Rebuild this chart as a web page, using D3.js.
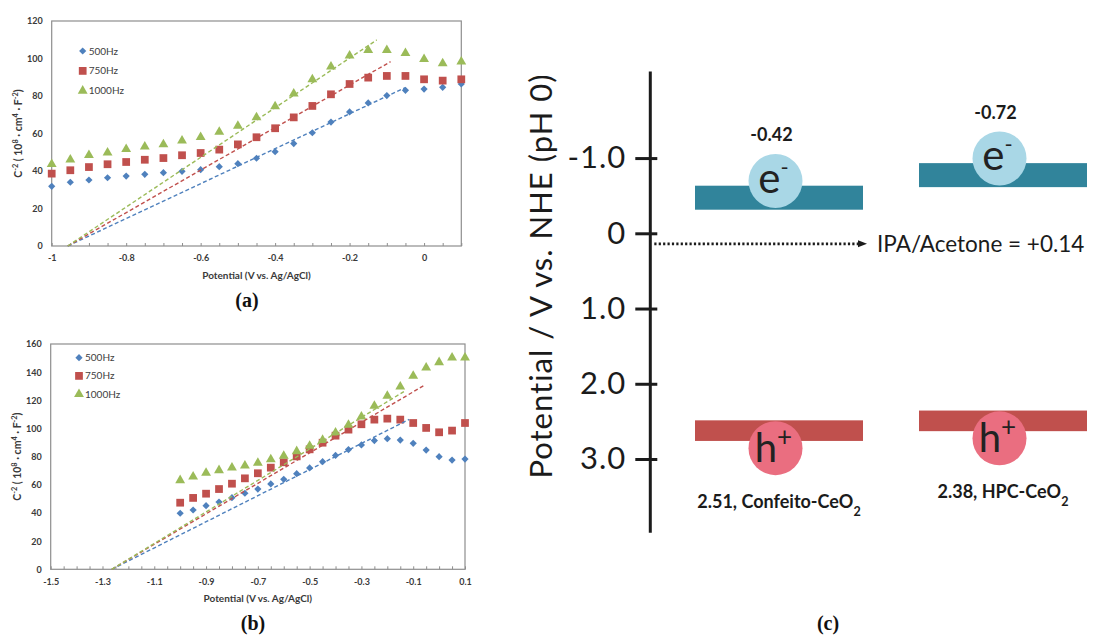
<!DOCTYPE html>
<html>
<head>
<meta charset="utf-8">
<script src="https://cdn.jsdelivr.net/npm/d3@7"></script>
<style>
  body { margin: 0; background: #fff; }
  svg { display: block; }
</style>
</head>
<body>
<svg id="fig" width="1094" height="635"></svg>
<script>
// ---------- Mott–Schottky data, panel (a) ----------
const seriesNames = ["500Hz", "750Hz", "1000Hz"];
const seriesColors = ["#4F81BD", "#C0504D", "#9BBB59"];
const seriesShapes = ["diamond", "square", "triangle"];

const potentialA = [-1, -0.95, -0.9, -0.85, -0.8, -0.75, -0.7, -0.65, -0.6, -0.55, -0.5, -0.45,
                    -0.4, -0.35, -0.3, -0.25, -0.2, -0.15, -0.1, -0.05, 0, 0.05, 0.1];
const a500  = [31.8, 34.0, 35.2, 36.4, 37.3, 38.2, 39.1, 39.8, 40.7, 42.3, 43.9, 46.8,
               50.3, 54.6, 60.4, 66.1, 71.5, 76.3, 80.2, 83.0, 83.7, 84.6, 86.4];
const a750  = [38.6, 40.4, 42.1, 43.6, 44.8, 46.0, 46.9, 48.4, 49.6, 51.4, 54.2, 58.0,
               62.8, 68.6, 74.7, 80.9, 86.4, 89.8, 90.7, 90.7, 88.9, 88.2, 88.9];
const a1000 = [43.6, 46.0, 48.4, 49.8, 51.6, 53.0, 54.2, 56.2, 58.1, 60.8, 64.0, 68.6,
               74.5, 81.2, 88.9, 95.6, 101.5, 104.4, 104.5, 102.8, 99.6, 97.4, 98.3];
// linear fits: [x-intercept, 0] to [end potential, end value]
const fitA500  = [[-0.957, 0], [-0.05, 84.5]];
const fitA750  = [[-0.957, 0], [-0.09, 98.3]];
const fitA1000 = [[-0.957, 0], [-0.127, 109.9]];
const xTicksA = [-1, -0.8, -0.6, -0.4, -0.2, 0];
const xTickLabelsA = ["-1", "-0.8", "-0.6", "-0.4", "-0.2", "0"];
const yTicksA = [0, 20, 40, 60, 80, 100, 120];

// ---------- Mott–Schottky data, panel (b) ----------
const potentialB = [-1, -0.95, -0.9, -0.85, -0.8, -0.75, -0.7, -0.65, -0.6, -0.55, -0.5, -0.45,
                    -0.4, -0.35, -0.3, -0.25, -0.2, -0.15, -0.1, -0.05, 0, 0.05, 0.1];
const b500  = [39.8, 42.1, 45.2, 47.8, 50.9, 54.0, 57.0, 60.6, 63.9, 67.9, 72.0, 76.4,
               80.9, 85.0, 88.3, 91.4, 92.8, 91.8, 89.5, 84.7, 80.0, 77.6, 78.3];
const b750  = [47.3, 50.7, 53.7, 57.0, 60.8, 64.6, 68.2, 72.2, 76.0, 80.2, 85.2, 89.9,
               94.9, 99.2, 103.0, 106.3, 107.0, 106.3, 103.9, 100.4, 97.3, 98.5, 103.9];
const b1000 = [63.2, 65.8, 68.4, 70.3, 72.2, 73.6, 75.5, 78.1, 80.5, 83.8, 87.6, 91.8,
               97.0, 102.5, 108.4, 116.0, 123.1, 129.7, 137.3, 143.2, 147.0, 150.3, 150.3];
const fitB500  = [[-1.264, 0], [-0.115, 106.5]];
const fitB750  = [[-1.264, 0], [-0.055, 130.9]];
const fitB1000 = [[-1.264, 0], [-0.136, 126.2]];
const xTicksB = [-1.5, -1.3, -1.1, -0.9, -0.7, -0.5, -0.3, -0.1, 0.1];
const xTickLabelsB = ["-1.5", "-1.3", "-1.1", "-0.9", "-0.7", "-0.5", "-0.3", "-0.1", "0.1"];
const yTicksB = [0, 20, 40, 60, 80, 100, 120, 140, 160];

// ---------- Band-edge diagram, panel (c) ----------
const materials = ["Confeito-CeO", "HPC-CeO"];
const conductionBand = [-0.42, -0.72];
const valenceBand = [2.51, 2.38];
const redoxLabel = "IPA/Acetone";
const redoxPotential = 0.14;
const yTicksC = [-1, 0, 1, 2, 3];
const yTickLabelsC = ["-1.0", "0", "1.0", "2.0", "3.0"];

const svg = d3.select("#fig");
svg.append("rect").attr("width", 1094).attr("height", 635).attr("fill", "#fff");

const chartFont = "Lato, 'Liberation Sans', sans-serif";

function symbolPath(shape) {
  if (shape === "square") return d3.symbol(d3.symbolSquare, 60)();
  if (shape === "triangle") return d3.symbol(d3.symbolTriangle, 42)();
  return d3.symbol(d3.symbolSquare, 26)();
}
function symbolRotate(shape) { return shape === "diamond" ? " rotate(45)" : ""; }

function appendSup(text, parts) {
  parts.forEach(p => {
    const t = text.append("tspan").text(p.t);
    if (p.sup) t.attr("baseline-shift", "super").attr("font-size", "0.7em");
    if (p.sub) t.attr("baseline-shift", "sub").attr("font-size", "0.7em");
  });
}

function mottSchottky(cfg) {
  const x = d3.scaleLinear().domain(cfg.xDomain).range([cfg.left, cfg.right]);
  const y = d3.scaleLinear().domain(cfg.yDomain).range([cfg.bottom, cfg.top]);
  const g = svg.append("g");

  g.append("rect")
    .attr("x", cfg.left).attr("y", cfg.top)
    .attr("width", cfg.right - cfg.left).attr("height", cfg.bottom - cfg.top)
    .attr("fill", "none").attr("stroke", "#8e8e8e").attr("stroke-width", 1.2);

  // small inward ticks every 0.05 V
  const minor = g.append("g").attr("transform", `translate(0,${cfg.bottom})`)
    .call(d3.axisBottom(x).tickValues(cfg.minorTicks).tickSizeInner(-3).tickSizeOuter(0).tickFormat(""));
  minor.select(".domain").remove();
  minor.selectAll(".tick line").attr("stroke", "#8e8e8e");

  const xa = g.append("g").attr("transform", `translate(0,${cfg.bottom})`)
    .call(d3.axisBottom(x).tickValues(cfg.xTicks).tickSize(0).tickPadding(9)
      .tickFormat((d, i) => cfg.xLabels[i]));
  xa.select(".domain").remove();
  xa.selectAll("text").attr("font-family", chartFont).attr("font-weight", "bold")
    .attr("font-size", 9).attr("fill", "#3a3a3a");

  const ya = g.append("g").attr("transform", `translate(${cfg.left},0)`)
    .call(d3.axisLeft(y).tickValues(cfg.yTicks).tickSize(0).tickPadding(9));
  ya.select(".domain").remove();
  ya.selectAll("text").attr("font-family", chartFont).attr("font-weight", "bold")
    .attr("font-size", 9).attr("fill", "#3a3a3a");

  // markers
  cfg.series.forEach((vals, i) => {
    const shape = seriesShapes[i];
    g.append("g").selectAll("path")
      .data(vals.map((v, j) => [cfg.xs[j], v]))
      .join("path")
      .attr("d", symbolPath(shape))
      .attr("transform", d => `translate(${x(d[0])},${y(d[1])})${symbolRotate(shape)}`)
      .attr("fill", seriesColors[i]);
  });

  // dashed linear fits
  const line = d3.line().x(d => x(d[0])).y(d => y(d[1]));
  cfg.fits.forEach((pts, i) => {
    g.append("path").attr("d", line(pts))
      .attr("fill", "none").attr("stroke", seriesColors[i])
      .attr("stroke-width", 1.4).attr("stroke-dasharray", "4,2.5");
  });

  // legend
  seriesNames.forEach((name, i) => {
    const ly = cfg.legendY + i * cfg.legendStep;
    const shape = seriesShapes[i];
    g.append("path").attr("d", symbolPath(shape))
      .attr("transform", `translate(${cfg.legendX},${ly})${symbolRotate(shape)}`)
      .attr("fill", seriesColors[i]);
    g.append("text").attr("x", cfg.legendX + 6).attr("y", ly).attr("dy", "0.35em")
      .attr("font-family", chartFont).attr("font-size", 10).attr("fill", "#404040")
      .text(name);
  });

  // axis titles
  g.append("text")
    .attr("x", (cfg.left + cfg.right) / 2).attr("y", cfg.bottom + 29).attr("dy", "0.35em")
    .attr("text-anchor", "middle").attr("font-family", chartFont).attr("font-weight", "bold")
    .attr("font-size", 10).attr("fill", "#3a3a3a")
    .text("Potential (V vs. Ag/AgCl)");

  const yt = g.append("text")
    .attr("transform", `translate(${cfg.left - 33},${(cfg.top + cfg.bottom) / 2}) rotate(-90)`)
    .attr("text-anchor", "middle").attr("dy", "0.35em")
    .attr("font-family", chartFont).attr("font-weight", "bold")
    .attr("font-size", 10.5).attr("fill", "#3a3a3a");
  appendSup(yt, [{t: "C"}, {t: "-2", sup: true}, {t: " ( 10"}, {t: "8", sup: true},
                 {t: " · cm"}, {t: "4", sup: true}, {t: " · F"}, {t: "-2", sup: true}, {t: ")"}]);

  // panel letter
  svg.append("text").attr("x", cfg.letterX).attr("y", cfg.letterY).attr("dy", "0.35em")
    .attr("text-anchor", "middle").attr("font-family", "'Liberation Serif', serif")
    .attr("font-weight", "bold").attr("font-size", 20).attr("fill", "#111")
    .text(cfg.letter);
}

mottSchottky({
  xDomain: [-1, 0.1], yDomain: [0, 120],
  left: 51.7, right: 461.3, top: 21, bottom: 246,
  xTicks: xTicksA, xLabels: xTickLabelsA, yTicks: yTicksA,
  minorTicks: potentialA,
  xs: potentialA, series: [a500, a750, a1000],
  fits: [fitA500, fitA750, fitA1000],
  legendX: 82.7, legendY: 51, legendStep: 19.9,
  letter: "(a)", letterX: 247, letterY: 300
});

mottSchottky({
  xDomain: [-1.5, 0.1], yDomain: [0, 160],
  left: 50.7, right: 465, top: 344, bottom: 569.3,
  xTicks: xTicksB, xLabels: xTickLabelsB, yTicks: yTicksB,
  minorTicks: [-1.5, -1.45, -1.4, -1.35, -1.3, -1.25, -1.2, -1.15, -1.1, -1.05].concat(potentialB),
  xs: potentialB, series: [b500, b750, b1000],
  fits: [fitB500, fitB750, fitB1000],
  legendX: 79, legendY: 357.7, legendStep: 18.2,
  letter: "(b)", letterX: 253, letterY: 623
});

// ---------- panel (c) ----------
(function bandDiagram() {
  const axisX = 650.3;
  const yC = d3.scaleLinear().domain([0, 3]).range([233.3, 459]);
  const xC = d3.scaleBand().domain(materials).range([695, 1087]).paddingInner(0.25);
  const g = svg.append("g");
  const ink = "#1b1b1b";

  // vertical axis line
  g.append("line").attr("x1", axisX).attr("x2", axisX)
    .attr("y1", yC(-2.15)).attr("y2", yC(3.98))
    .attr("stroke", ink).attr("stroke-width", 3);

  const ax = g.append("g").attr("transform", `translate(${axisX},0)`)
    .call(d3.axisLeft(yC).tickValues(yTicksC).tickSize(15).tickPadding(9)
      .tickFormat((d, i) => yTickLabelsC[i]));
  ax.select(".domain").remove();
  ax.selectAll(".tick line").attr("x1", 7).attr("stroke", ink).attr("stroke-width", 3);
  ax.selectAll("text").attr("font-family", chartFont).attr("font-size", 31)
    .attr("letter-spacing", 1).attr("fill", ink);

  g.append("text")
    .attr("transform", `translate(541,${276}) rotate(-90)`)
    .attr("text-anchor", "middle").attr("dy", "0.35em")
    .attr("font-family", chartFont).attr("font-size", 31).attr("letter-spacing", 1)
    .attr("fill", ink)
    .text("Potential / V vs. NHE (pH 0)");

  // redox level arrow
  const ry = yC(redoxPotential);
  g.append("line").attr("x1", axisX + 4).attr("x2", 860).attr("y1", ry).attr("y2", ry)
    .attr("stroke", ink).attr("stroke-width", 2.6).attr("stroke-dasharray", "2.2,2.2");
  g.append("path").attr("d", d3.line()([[858, ry - 3.5], [867, ry], [858, ry + 3.5]]) + "Z")
    .attr("fill", ink);
  g.append("text").attr("x", 877).attr("y", ry).attr("dy", "0.35em")
    .attr("font-family", chartFont).attr("font-size", 22.5).attr("fill", ink)
    .text(`${redoxLabel} = +${redoxPotential.toFixed(2)}`);

  const r = 27;
  materials.forEach((m, i) => {
    const bx = xC(m), bw = xC.bandwidth(), cx = bx + bw / 2 - 3.5;

    // conduction band
    const cbMid = yC(conductionBand[i]) - 4;
    g.append("rect").attr("x", bx).attr("y", cbMid - 12).attr("width", bw).attr("height", 24)
      .attr("fill", "#31849B");
    const ecy = cbMid - 16.7;
    g.append("circle").attr("cx", cx).attr("cy", ecy).attr("r", r).attr("fill", "#a9d7e6");
    const et = g.append("text").attr("x", cx - 2).attr("y", ecy + 12)
      .attr("text-anchor", "middle").attr("font-family", chartFont)
      .attr("font-size", 42).attr("fill", "#222");
    et.append("tspan").text("e");
    et.append("tspan").text("-").attr("font-size", 22).attr("dy", -18);
    g.append("text").attr("x", cx - 4).attr("y", ecy - 46).attr("dy", "0.35em")
      .attr("text-anchor", "middle").attr("font-family", chartFont).attr("font-weight", "bold")
      .attr("font-size", 18).attr("fill", ink)
      .text(conductionBand[i].toFixed(2));

    // valence band
    const vbMid = yC(valenceBand[i]) + 8.5;
    g.append("rect").attr("x", bx).attr("y", vbMid - 10.3).attr("width", bw).attr("height", 20.6)
      .attr("fill", "#C0504D");
    const hcy = vbMid + 17.5;
    g.append("circle").attr("cx", cx).attr("cy", hcy).attr("r", r).attr("fill", "#ea6e80");
    const ht = g.append("text").attr("x", cx - 2).attr("y", hcy + 14)
      .attr("text-anchor", "middle").attr("font-family", chartFont)
      .attr("font-size", 40).attr("fill", "#222");
    ht.append("tspan").text("h");
    ht.append("tspan").text("+").attr("font-size", 26).attr("dy", -16);

    const lt = g.append("text").attr("x", bx + bw / 2).attr("y", hcy + 53.5).attr("dy", "0.35em")
      .attr("text-anchor", "middle").attr("font-family", chartFont).attr("font-weight", "bold")
      .attr("font-size", 18).attr("fill", ink);
    appendSup(lt, [{t: `${valenceBand[i].toFixed(2)}, ${m}`}, {t: "2", sub: true}]);
  });

  svg.append("text").attr("x", 828).attr("y", 623).attr("dy", "0.35em")
    .attr("text-anchor", "middle").attr("font-family", "'Liberation Serif', serif")
    .attr("font-weight", "bold").attr("font-size", 20).attr("fill", "#111")
    .text("(c)");
})();
</script>
</body>
</html>
